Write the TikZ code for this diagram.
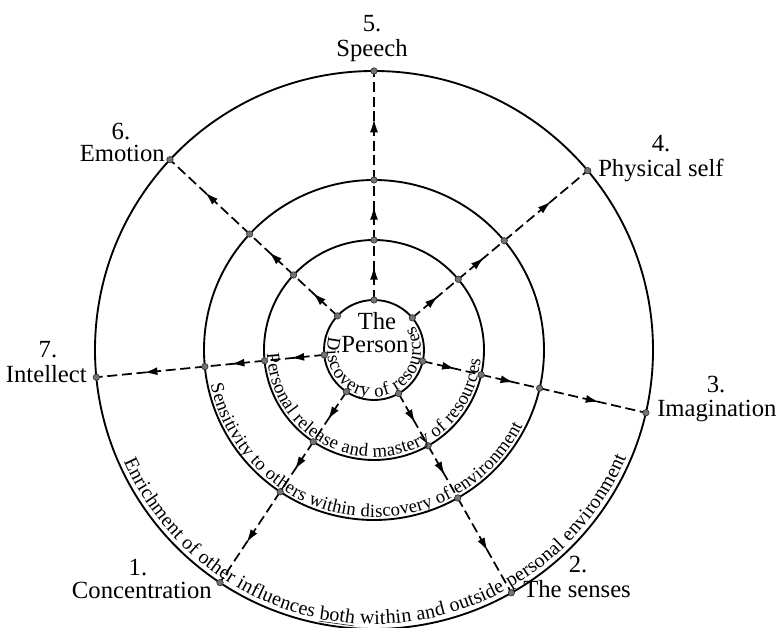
\documentclass[tikz,border=0pt]{standalone}
\usepackage{fontspec}
\setmainfont{Liberation Serif}
\usetikzlibrary{arrows.meta,decorations.markings,decorations.text}

\tikzset{
  ring/.style={line width=1.4pt},
  spoke/.style={line width=1.3pt, dash pattern=on 7.5pt off 3.5pt,
    postaction={decorate},
    decoration={markings, mark=at position 0.56 with {\arrow{Latex[length=10pt,width=6pt]}}}},
  dot/.style={fill=black!55, draw=black!80, line width=0.5pt},
  lbl/.style={font=\fontsize{18.5}{20}\selectfont, inner sep=0pt},
  along/.style={decorate, decoration={text along path, text align=fit to path, text={#1}}}
}

\begin{document}
\begin{tikzpicture}[x=0.75pt,y=0.75pt]
\useasboundingbox (-374,-277) rectangle (406,350);

\foreach \r in {50,110,170,279}
  \draw[ring] (0,0) circle (\r);

\foreach \a/\n in {236.5/1,299.5/2,347/3,40/4,90/5,137/6,185.6/7} {
  \coordinate (p\n-0) at (\a:50);
  \coordinate (p\n-1) at (\a:110);
  \coordinate (p\n-2) at (\a:170);
  \coordinate (p\n-3) at (\a:279);
}
\foreach \n in {1,...,7} {
  \draw[spoke] (p\n-0) -- (p\n-1);
  \draw[spoke] (p\n-1) -- (p\n-2);
  \draw[spoke] (p\n-2) -- (p\n-3);
  \foreach \j in {0,...,3}
    \draw[dot] (p\n-\j) circle (3.2);
}

% texts round the rings
\path[along={|\fontsize{14}{16}\selectfont|Discovery of resources}]
  (163:47) arc[start angle=163, end angle=391, radius=47];
\path[along={|\fontsize{14}{16}\selectfont|Personal release and mastery of resources}]
  (182:107) arc[start angle=182, end angle=355, radius=107];
\path[along={|\fontsize{14}{16}\selectfont|Sensitivity to others within discovery of environment}]
  (192:167) arc[start angle=192, end angle=333, radius=167];
\path[along={|\fontsize{15}{17}\selectfont|Enrichment of other influences {\underline{both}} within and outside personal environment}]
  (204:274) arc[start angle=204, end angle=337, radius=274];

\node[lbl, anchor=base] (the) at (3,20) {The};
\node[lbl, anchor=base] (person) at (1,-3) {Person};

\node[lbl, anchor=base east] (conc) at (-162,-248) {Concentration};
\node[lbl, anchor=base] (n1) at (-236,-225) {1.};
\node[lbl, anchor=base west] (senses) at (149,-247) {The senses};
\node[lbl, anchor=base] (n2) at (204,-222) {2.};
\node[lbl, anchor=base west] (imag) at (283,-66) {Imagination};
\node[lbl, anchor=base] (n3) at (342,-43) {3.};
\node[lbl, anchor=base west] (phys) at (224,173) {Physical self};
\node[lbl, anchor=base] (n4) at (287,198) {4.};
\node[lbl, anchor=base] (speech) at (-2,293) {Speech};
\node[lbl, anchor=base] (n5) at (-2,318) {5.};
\node[lbl, anchor=base east] (emo) at (-209,188) {Emotion};
\node[lbl, anchor=base] (n6) at (-253,210) {6.};
\node[lbl, anchor=base east] (intel) at (-287,-33) {Intellect};
\node[lbl, anchor=base] (n7) at (-326,-8) {7.};
\end{tikzpicture}
\end{document}
